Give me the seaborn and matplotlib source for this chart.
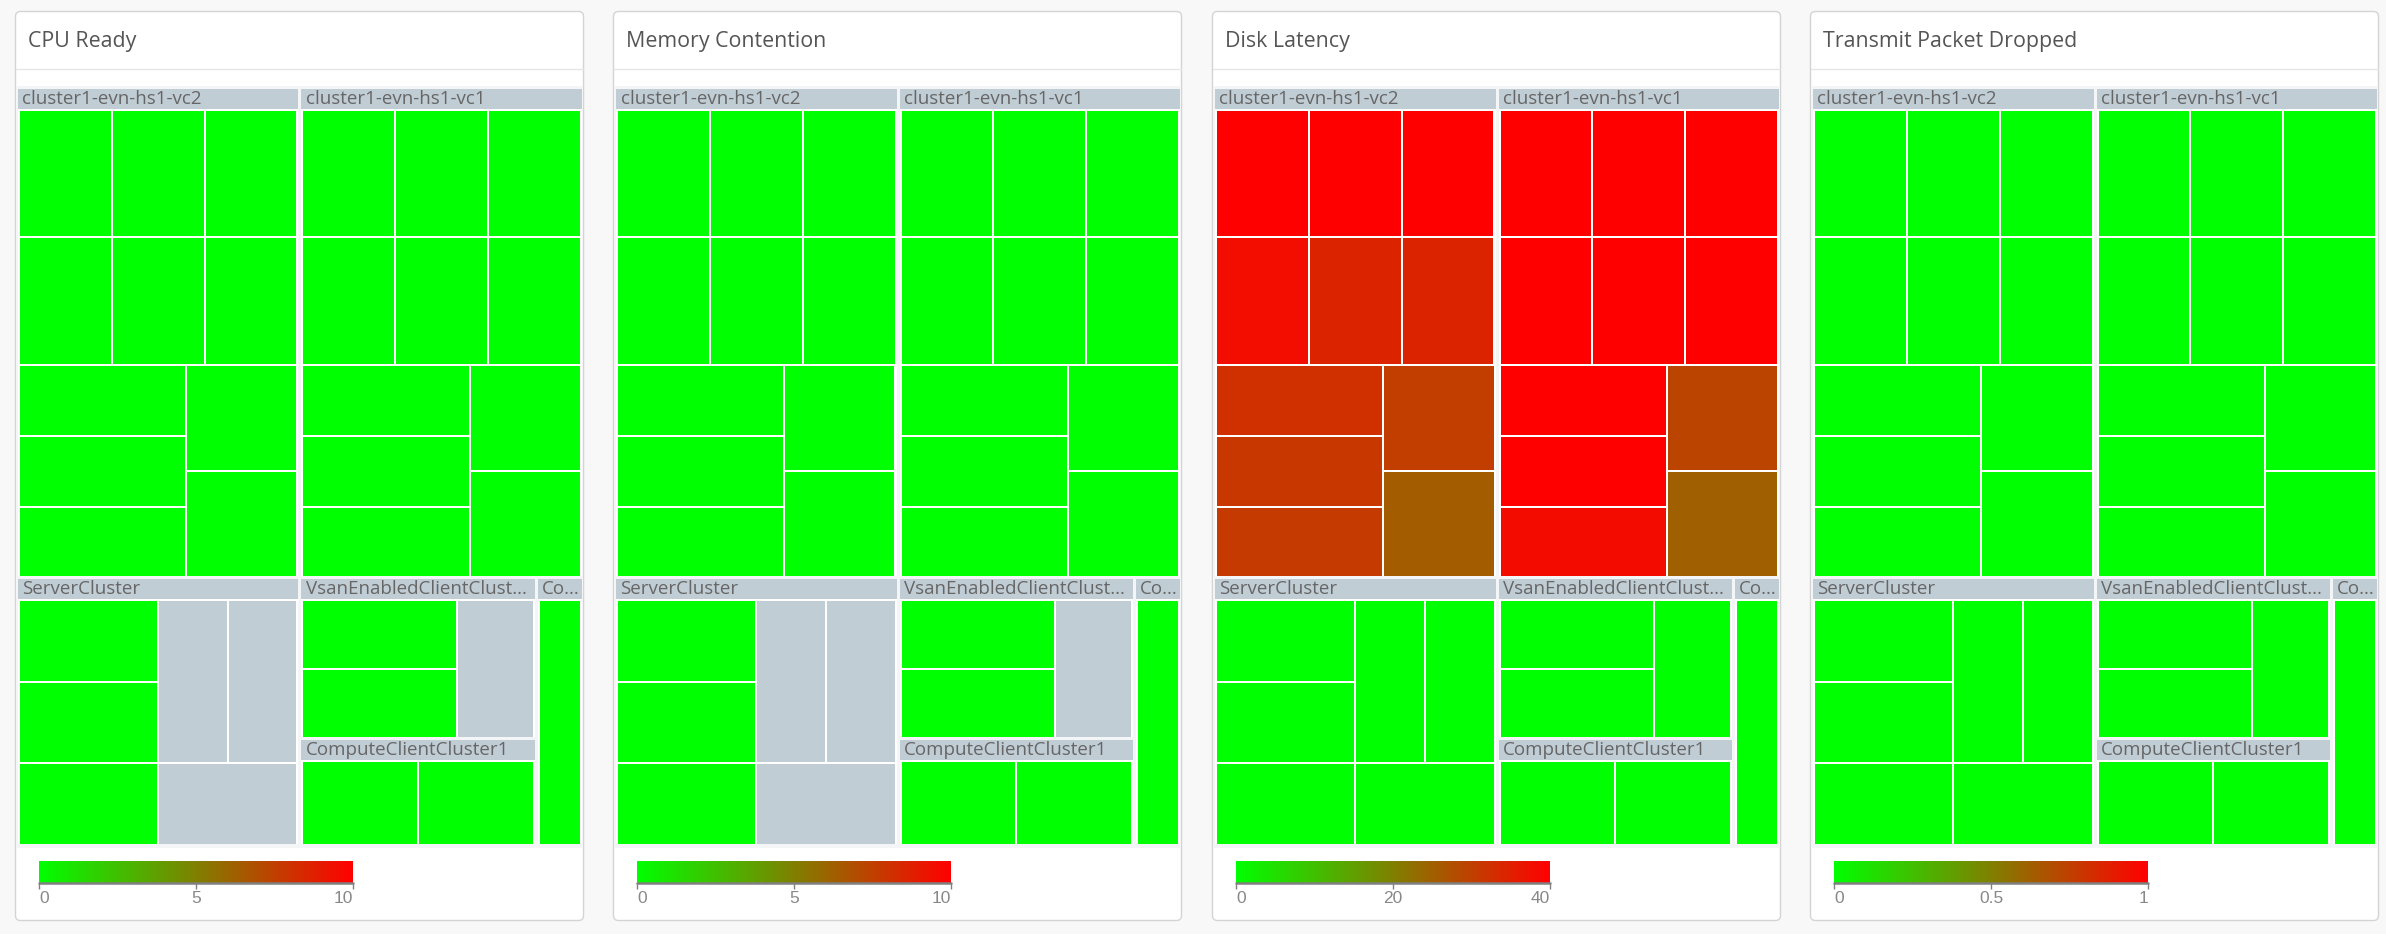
import math
import matplotlib
matplotlib.use("Agg")
import matplotlib.pyplot as plt
import seaborn as sns
from matplotlib.patches import Rectangle, FancyBboxPatch
from matplotlib.colors import Normalize
from matplotlib.cm import ScalarMappable

nan = float("nan")

# ---------------- data ----------------
metric_titles = ["CPU Ready", "Memory Contention", "Disk Latency", "Transmit Packet Dropped"]
scale_max = [10, 10, 40, 1]
scale_ticks = [[0, 5, 10], [0, 5, 10], [0, 20, 40], [0, 0.5, 1]]
scale_tick_labels = [["0", "5", "10"], ["0", "5", "10"], ["0", "20", "40"], ["0", "0.5", "1"]]

group_names = ["cluster1-evn-hs1-vc2", "cluster1-evn-hs1-vc1", "ServerCluster",
               "VsanEnabledClientCluster01", "ComputeClientCluster1", "ComputeCluster2"]
group_sizes = [11, 11, 6, 3, 2, 1]   # hosts per cluster (each host has size 1)

cpu_ready = [
    [0, 0, 0, 0, 0, 0, 0, 0, 0, 0, 0],
    [0, 0, 0, 0, 0, 0, 0, 0, 0, 0, 0],
    [0, 0, 0, nan, nan, nan],
    [0, 0, nan],
    [0, 0],
    [0],
]
memory_contention = [
    [0, 0, 0, 0, 0, 0, 0, 0, 0, 0, 0],
    [0, 0, 0, 0, 0, 0, 0, 0, 0, 0, 0],
    [0, 0, 0, nan, nan, nan],
    [0, 0, nan],
    [0, 0],
    [0],
]
disk_latency = [
    [40, 40, 40, 38, 34.5, 34.5, 32.5, 31.4, 30.8, 30.2, 25.6],
    [40, 40, 40, 40, 40, 40, 40, 40, 38.2, 29.3, 25.0],
    [0, 0, 0, 0, 0, 0],
    [0, 0, 0],
    [0, 0],
    [0],
]
packets_dropped = [
    [0, 0, 0, 0, 0, 0, 0, 0, 0, 0, 0],
    [0, 0, 0, 0, 0, 0, 0, 0, 0, 0, 0],
    [0, 0, 0, 0, 0, 0],
    [0, 0, 0],
    [0, 0],
    [0],
]
metric_values = [cpu_ready, memory_contention, disk_latency, packets_dropped]

# ---------------- style ----------------
sns.set_style("white")
plt.rcParams["font.family"] = ["Open Sans", "DejaVu Sans"]

W, H = 2386, 934
BG = "#f8f8f8"
HEADER = "#c1cdd5"
NODATA = "#c1cdd5"
cmap = sns.blend_palette(["#00ff00", "#ff0000"], as_cmap=True)

PHI = (1 + math.sqrt(5)) / 2


def squarify(values, x0, y0, x1, y1, ratio=PHI):
    """d3.treemapSquarify port; y grows downward."""
    n = len(values)
    rects = [None] * n
    value = float(sum(values))
    i0 = i1 = 0
    while i0 < n:
        dx, dy = x1 - x0, y1 - y0
        sumv = values[i1]
        i1 += 1
        minv = maxv = sumv
        alpha = max(dy / dx, dx / dy) / (value * ratio)
        beta = sumv * sumv * alpha
        min_ratio = max(maxv / beta, beta / minv)
        while i1 < n:
            nv = values[i1]
            s = sumv + nv
            mn, mx = min(minv, nv), max(maxv, nv)
            beta = s * s * alpha
            new_ratio = max(mx / beta, beta / mn)
            if new_ratio > min_ratio:
                break
            sumv, minv, maxv, min_ratio = s, mn, mx, new_ratio
            i1 += 1
        row = range(i0, i1)
        if dx < dy:
            ny = y0 + dy * sumv / value
            k = (x1 - x0) / sumv
            cx = x0
            for j in row:
                w = values[j] * k
                rects[j] = (cx, y0, cx + w, ny)
                cx += w
            y0 = ny
        else:
            nx = x0 + dx * sumv / value
            k = (y1 - y0) / sumv
            cy = y0
            for j in row:
                h = values[j] * k
                rects[j] = (x0, cy, nx, cy + h)
                cy += h
            x0 = nx
        value -= sumv
        i0 = i1
    return rects


fig = plt.figure(figsize=(W / 100, H / 100), dpi=100, facecolor=BG)
renderer = fig.canvas.get_renderer()


def fit_label(ax, x, y, text, max_w, **kw):
    t = ax.text(x, y, text, **kw)
    if t.get_window_extent(renderer).width <= max_w:
        return t
    s = text
    while len(s) > 1:
        s = s[:-1]
        t.set_text(s + "...")
        if t.get_window_extent(renderer).width <= max_w:
            break
    return t


panel_lefts = [15, 613, 1212, 1810]
panel_top, panel_w, panel_h = 11, 569, 910

for i, title in enumerate(metric_titles):
    px = panel_lefts[i]
    ax = fig.add_axes([px / W, 1 - (panel_top + panel_h) / H, panel_w / W, panel_h / H])
    ax.set_xlim(0, panel_w)
    ax.set_ylim(panel_h, 0)
    ax.axis("off")

    ax.add_patch(FancyBboxPatch((0.5, 0.5), panel_w - 1, panel_h - 1,
                                boxstyle="round,pad=0,rounding_size=5",
                                fc="white", ec="#d4d4d4", lw=1.0, clip_on=False))
    ax.text(13, 30, title, fontsize=15.4, color="#555555", va="center", ha="left")
    ax.plot([1, panel_w - 1], [58, 58], color="#e6e6e6", lw=1)
    ax.add_patch(Rectangle((1, 75), panel_w - 2, 762, fc="#f3f5f6", ec="none"))

    # treemap root rectangle
    rx0, ry0, rx1, ry1 = 3, 78, panel_w - 2, 833
    g_gap = 1.5
    g_rects = squarify(group_sizes, rx0 - g_gap, ry0 - g_gap, rx1 + g_gap, ry1 + g_gap)
    norm = Normalize(0, scale_max[i], clip=True)
    values = metric_values[i]
    for name, (gx0, gy0, gx1, gy1), vals in zip(group_names, g_rects, values):
        gx0, gy0, gx1, gy1 = gx0 + g_gap, gy0 + g_gap, gx1 - g_gap, gy1 - g_gap
        ax.add_patch(Rectangle((gx0, gy0), gx1 - gx0, 20, fc=HEADER, ec="none"))
        ax.add_patch(Rectangle((gx0, gy0 + 20), gx1 - gx0, gy1 - gy0 - 20, fc="white", ec="none"))
        fit_label(ax, gx0 + 4.5, gy0 + 10, name, gx1 - gx0 - 5,
                  fontsize=13.5, color="#666666", va="center", ha="left")
        cx0, cy0, cx1, cy1 = gx0 + 2, gy0 + 22, gx1 - 2, gy1
        c_rects = squarify([1] * len(vals), cx0 - 1, cy0 - 1, cx1 + 1, cy1 + 1)
        for v, (a0, b0, a1, b1) in zip(vals, c_rects):
            col = NODATA if (v != v) else cmap(norm(v))
            ax.add_patch(Rectangle((a0 + 1, b0 + 1), a1 - a0 - 2, b1 - b0 - 2, fc=col, ec="none"))

    # colour scale legend
    cax = fig.add_axes([(px + 24) / W, 1 - 883 / H, 314 / W, 22 / H])
    cb = fig.colorbar(ScalarMappable(norm=Normalize(0, scale_max[i]), cmap=cmap),
                      cax=cax, orientation="horizontal")
    cb.outline.set_visible(False)
    cb.set_ticks(scale_ticks[i])
    cb.set_ticklabels(scale_tick_labels[i])
    cax.tick_params(axis="x", length=4, width=1, color="#808080", labelsize=12.5,
                    labelcolor="#888888", pad=2)
    for lbl in cax.get_xticklabels():
        lbl.set_fontfamily(["Liberation Sans", "DejaVu Sans"])
    labels = cax.get_xticklabels()
    labels[0].set_ha("left")
    labels[-1].set_ha("right")
    cax.axhline(0, color="#808080", lw=1.8, clip_on=False)

fig.savefig("out.png", dpi=100, facecolor=BG)
